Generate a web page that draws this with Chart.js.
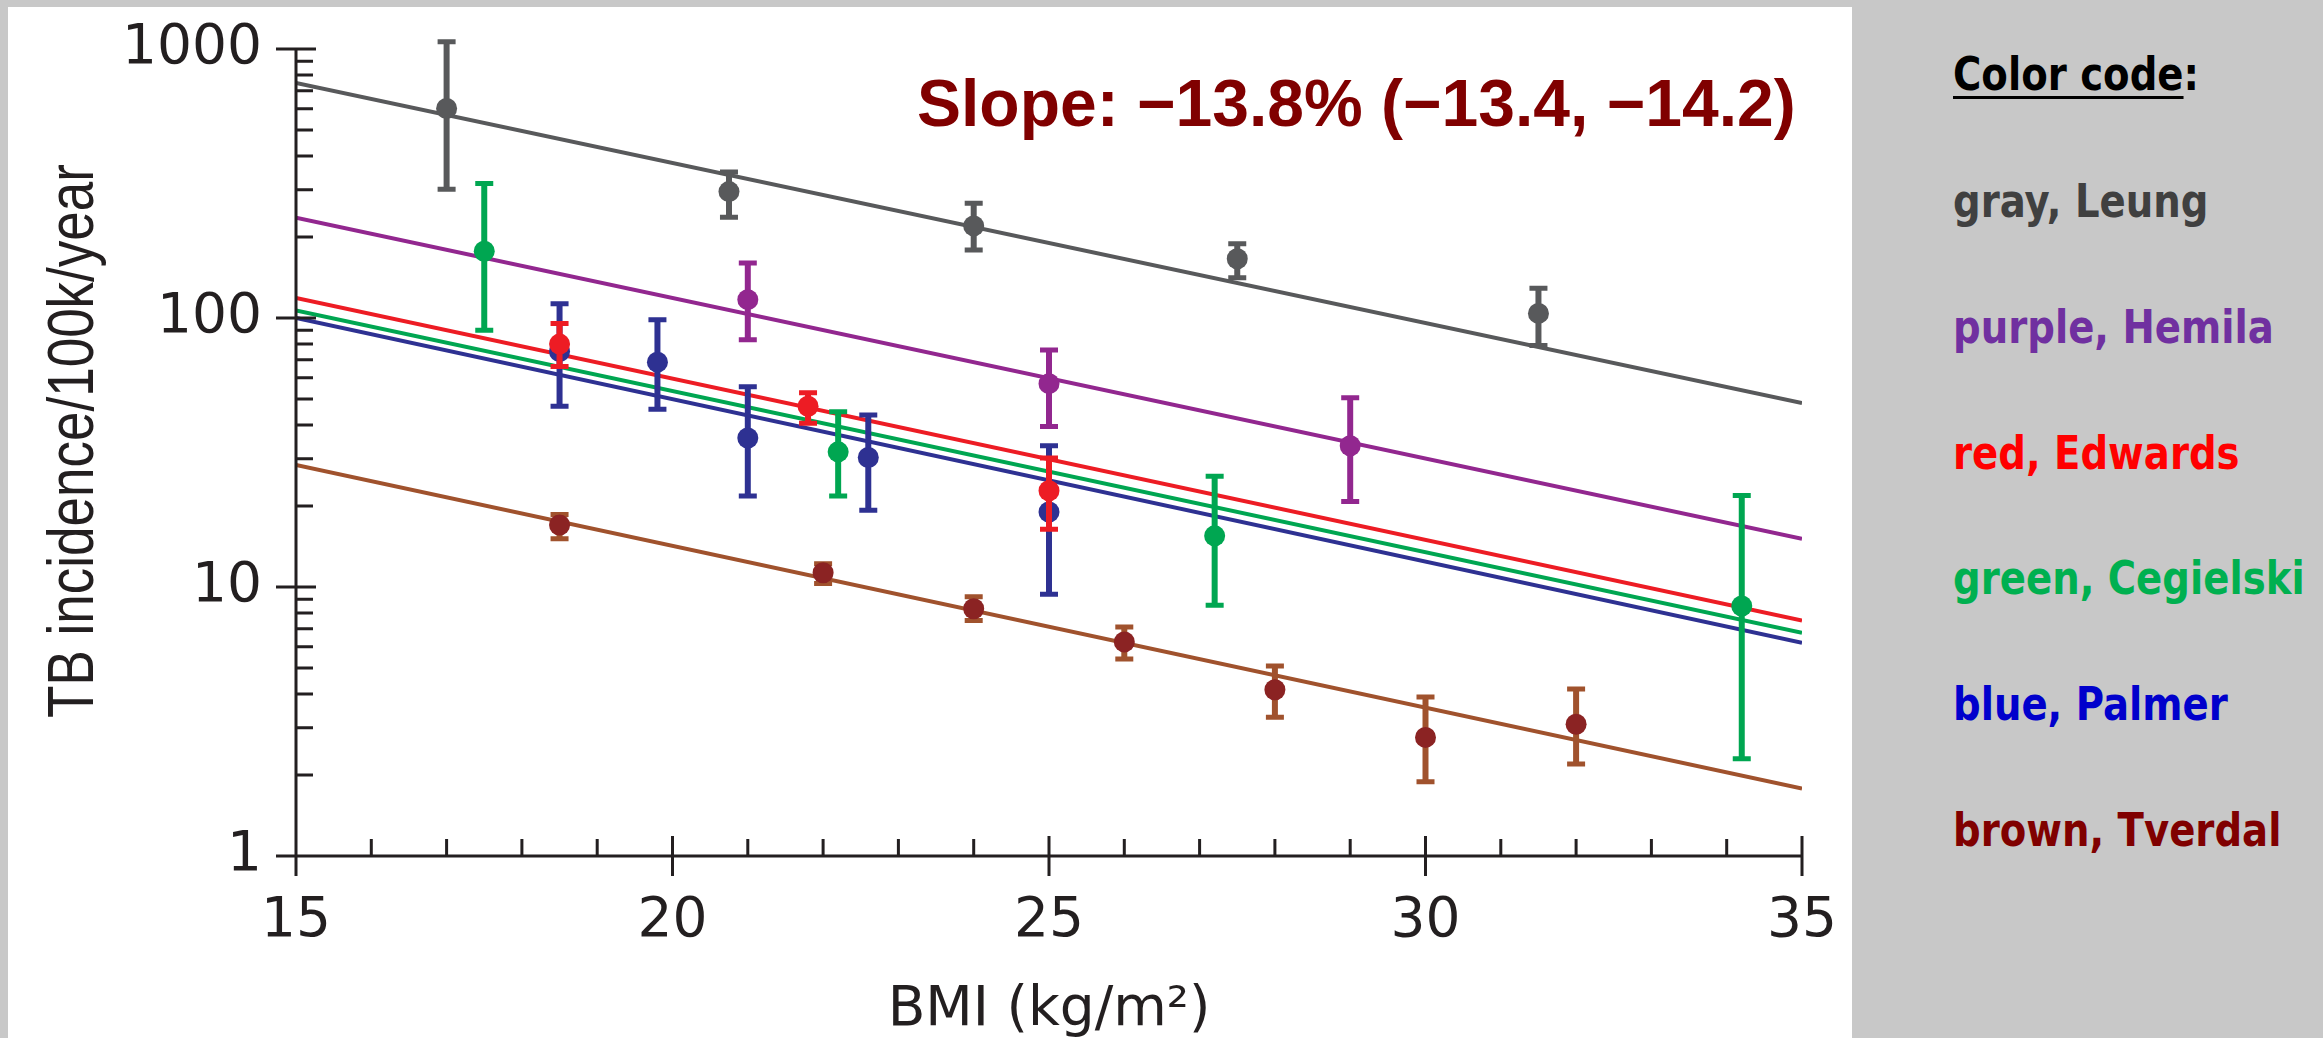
<!DOCTYPE html>
<html>
<head>
<meta charset="utf-8">
<title>TB incidence vs BMI</title>
<script src="https://cdn.jsdelivr.net/npm/chart.js@4.4.1/dist/chart.umd.min.js"></script>
<style>
  html, body { margin: 0; padding: 0; }
  body { width: 2323px; height: 1038px; background: #c8c8c8; position: relative; overflow: hidden; }
  #panel { position: absolute; left: 8px; top: 7px; width: 1844px; height: 1031px; background: #fff; }
  #slope {
    position: absolute; left: 917px; top: 70px; white-space: nowrap;
    font: bold 66px 'Liberation Sans', Arial, sans-serif; line-height: 66px; color: #800000;
  }
  .key {
    position: absolute; left: 1953px; white-space: nowrap;
    font: bold 46px 'DejaVu Sans', Verdana, sans-serif; line-height: 46px;
    transform: scaleX(0.84); transform-origin: 0 0;
  }
</style>
</head>
<body>
<div id="panel"><canvas id="tbChart"></canvas></div>
<div id="slope">Slope: −13.8% (−13.4, −14.2)</div>
<div id="key"></div>

<script>
// axis ranges and tick labels
const bmiRange = [15, 35];
const xTickVals = [15, 20, 25, 30, 35];
const yTickVals = [1, 10, 100, 1000];

// legend text
const studyNames = ['Leung', 'Hemila', 'Edwards', 'Cegielski', 'Palmer', 'Tverdal'];
const colourNames = ['gray', 'purple', 'red', 'green', 'blue', 'brown'];
const keyColors = ['#404040', '#7030a0', '#ff0000', '#00b050', '#0000cc', '#800000'];

// each study: BMI, TB incidence per 100k/year, error bar low / high
const leungBmi  = [17.0, 20.75, 24.0, 27.5, 31.5];
const leungInc  = [601, 295, 220, 166, 104];
const leungLow  = [301, 237, 179, 141, 79];
const leungHigh = [1064, 349, 267, 189, 129];

const hemilaBmi  = [21.0, 25.0, 29.0];
const hemilaInc  = [117, 57, 33.5];
const hemilaLow  = [83, 39.5, 20.8];
const hemilaHigh = [160, 76, 50.5];

const edwardsBmi  = [18.5, 21.8, 25.0];
const edwardsInc  = [80, 47, 22.8];
const edwardsLow  = [66, 40.6, 16.4];
const edwardsHigh = [95.5, 52.7, 30.2];

const cegielskiBmi  = [17.5, 22.2, 27.2, 34.2];
const cegielskiInc  = [177, 31.8, 15.5, 8.5];
const cegielskiLow  = [90, 21.8, 8.55, 2.3];
const cegielskiHigh = [316, 44.8, 25.8, 21.9];

const palmerBmi  = [18.5, 19.8, 21.0, 22.6, 25.0];
const palmerInc  = [75, 68.5, 35.8, 30.3, 19.0];
const palmerLow  = [47, 45.8, 21.8, 19.3, 9.4];
const palmerHigh = [113, 98.5, 55.5, 43.6, 33.5];

const tverdalBmi  = [18.5, 22.0, 24.0, 26.0, 28.0, 30.0, 32.0];
const tverdalInc  = [17.0, 11.3, 8.3, 6.25, 4.15, 2.76, 3.09];
const tverdalLow  = [15.1, 10.3, 7.5, 5.4, 3.28, 1.89, 2.2];
const tverdalHigh = [18.6, 12.2, 9.2, 7.1, 5.08, 3.9, 4.18];

// fitted lines: value at BMI 15 and at BMI 35
const leungFit     = [747, 48.3];
const hemilaFit    = [236, 15.1];
const edwardsFit   = [118.6, 7.5];
const cegielskiFit = [106.6, 6.76];
const palmerFit    = [100, 6.2];
const tverdalFit   = [28.4, 1.78];

const colors = {
  gray: '#58595b',
  purple: '#92278f',
  red: '#ed1c24',
  green: '#00a651',
  blue: '#2e3192',
  brown: '#a0522d',
  brownDot: '#8b2323',
  axis: '#231f20',
};

const series = [
  { bmi: leungBmi, inc: leungInc, low: leungLow, high: leungHigh, fit: leungFit, line: colors.gray, dot: colors.gray },
  { bmi: hemilaBmi, inc: hemilaInc, low: hemilaLow, high: hemilaHigh, fit: hemilaFit, line: colors.purple, dot: colors.purple },
  { bmi: edwardsBmi, inc: edwardsInc, low: edwardsLow, high: edwardsHigh, fit: edwardsFit, line: colors.red, dot: colors.red },
  { bmi: cegielskiBmi, inc: cegielskiInc, low: cegielskiLow, high: cegielskiHigh, fit: cegielskiFit, line: colors.green, dot: colors.green },
  { bmi: palmerBmi, inc: palmerInc, low: palmerLow, high: palmerHigh, fit: palmerFit, line: colors.blue, dot: colors.blue },
  { bmi: tverdalBmi, inc: tverdalInc, low: tverdalLow, high: tverdalHigh, fit: tverdalFit, line: colors.brown, dot: colors.brownDot },
];

const datasets = [];
series.forEach((s, i) => {
  datasets.push({
    label: studyNames[i] + ' fit',
    data: [{ x: bmiRange[0], y: s.fit[0] }, { x: bmiRange[1], y: s.fit[1] }],
    showLine: true,
    borderColor: s.line,
    borderWidth: 4,
    pointRadius: 0,
    order: 2,
  });
  datasets.push({
    label: studyNames[i],
    data: s.bmi.map((b, j) => ({ x: b, y: s.inc[j] })),
    errLow: s.low,
    errHigh: s.high,
    barColor: s.line,
    backgroundColor: s.dot,
    borderWidth: 0,
    pointRadius: 10.5,
    order: 1,
  });
});

// vertical error bars with caps, drawn just under each study's dots
const errorBars = {
  id: 'errorBars',
  beforeDatasetDraw(chart, args) {
    const ds = chart.data.datasets[args.index];
    if (!ds.errLow) return;
    const { ctx, scales: { x, y } } = chart;
    ctx.save();
    ctx.strokeStyle = ds.barColor;
    ds.data.forEach((p, i) => {
      const px = x.getPixelForValue(p.x);
      const lo = y.getPixelForValue(ds.errLow[i]);
      const hi = y.getPixelForValue(ds.errHigh[i]);
      ctx.lineWidth = 6;
      ctx.beginPath();
      ctx.moveTo(px, lo);
      ctx.lineTo(px, hi);
      ctx.stroke();
      ctx.lineWidth = 5;
      ctx.beginPath();
      ctx.moveTo(px - 9, lo); ctx.lineTo(px + 9, lo);
      ctx.moveTo(px - 9, hi); ctx.lineTo(px + 9, hi);
      ctx.stroke();
    });
    ctx.restore();
  },
};

// axis lines, crossing major ticks and inward minor ticks
const axisMarks = {
  id: 'axisMarks',
  afterDraw(chart) {
    const { ctx, scales: { x, y } } = chart;
    const major = 20, minor = 17;
    const left = x.getPixelForValue(bmiRange[0]);
    const right = x.getPixelForValue(bmiRange[1]);
    const top = y.getPixelForValue(yTickVals[yTickVals.length - 1]);
    const bottom = y.getPixelForValue(yTickVals[0]);
    ctx.save();
    ctx.strokeStyle = colors.axis;
    ctx.lineWidth = 3;
    ctx.beginPath();
    ctx.moveTo(left, top); ctx.lineTo(left, bottom);
    ctx.moveTo(left - major, bottom); ctx.lineTo(right, bottom);
    yTickVals.forEach(v => {
      const p = y.getPixelForValue(v);
      ctx.moveTo(left - major, p); ctx.lineTo(left + major, p);
    });
    xTickVals.forEach(v => {
      const p = x.getPixelForValue(v);
      ctx.moveTo(p, bottom - major); ctx.lineTo(p, bottom + major);
    });
    for (let d = 1; d < 1000; d *= 10) {
      for (let k = 2; k <= 9; k++) {
        const p = y.getPixelForValue(k * d);
        ctx.moveTo(left, p); ctx.lineTo(left + minor, p);
      }
    }
    for (let b = bmiRange[0] + 1; b < bmiRange[1]; b++) {
      if (b % 5 === 0) continue;
      const p = x.getPixelForValue(b);
      ctx.moveTo(p, bottom); ctx.lineTo(p, bottom - minor);
    }
    ctx.stroke();
    ctx.restore();
  },
};

// rotated y title, a little taller than plain Arial like the original
const yTitle = {
  id: 'yTitle',
  afterDraw(chart) {
    const { ctx } = chart;
    ctx.save();
    ctx.translate(85, 434);
    ctx.rotate(-Math.PI / 2);
    ctx.scale(1, 1.22);
    ctx.fillStyle = colors.axis;
    ctx.font = "53px 'Liberation Sans', Arial, sans-serif";
    ctx.textAlign = 'center';
    ctx.textBaseline = 'alphabetic';
    ctx.fillText('TB incidence/100k/year', 0, 0);
    ctx.restore();
  },
};

const tickFont = { family: "'DejaVu Sans', sans-serif", size: 55 };

new Chart(document.getElementById('tbChart'), {
  type: 'scatter',
  data: { datasets },
  options: {
    responsive: true,
    maintainAspectRatio: false,
    animation: false,
    events: [],
    layout: { padding: { top: 42, right: 50, left: 0, bottom: 0 } },
    plugins: { legend: { display: false }, tooltip: { enabled: false } },
    scales: {
      x: {
        type: 'linear',
        min: bmiRange[0],
        max: bmiRange[1],
        grid: { display: false, drawTicks: false },
        border: { display: false },
        afterBuildTicks: s => { s.ticks = xTickVals.map(v => ({ value: v })); },
        afterFit: s => { s.height = 182; s.paddingLeft = 0; s.paddingRight = 0; },
        ticks: { font: tickFont, color: colors.axis, padding: 33, maxRotation: 0, autoSkip: false },
        title: {
          display: true,
          text: 'BMI (kg/m²)',
          font: { family: "'DejaVu Sans', sans-serif", size: 55, lineHeight: 1.0 },
          color: colors.axis,
          padding: { top: 0, bottom: 0 },
        },
      },
      y: {
        type: 'logarithmic',
        min: yTickVals[0],
        max: yTickVals[yTickVals.length - 1],
        grid: { display: false, drawTicks: false },
        border: { display: false },
        afterBuildTicks: s => { s.ticks = yTickVals.map(v => ({ value: v })); },
        afterFit: s => { s.width = 288; s.paddingTop = 0; s.paddingBottom = 0; },
        ticks: { font: tickFont, color: colors.axis, padding: 34, callback: v => String(v) },
      },
    },
  },
  plugins: [errorBars, axisMarks, yTitle],
});

// colour key on the right
const key = document.getElementById('key');
const head = document.createElement('div');
head.className = 'key';
head.style.top = (89.5 - 39) + 'px';
head.style.color = '#000';
head.innerHTML = '<span style="text-decoration: underline; text-decoration-thickness: 3px; text-underline-offset: 6px;">Color code</span>:';
key.appendChild(head);
studyNames.forEach((name, i) => {
  const row = document.createElement('div');
  row.className = 'key';
  row.style.top = (217 + i * 125.8 - 39) + 'px';
  row.style.color = keyColors[i];
  row.textContent = colourNames[i] + ', ' + name;
  key.appendChild(row);
});
</script>
</body>
</html>
